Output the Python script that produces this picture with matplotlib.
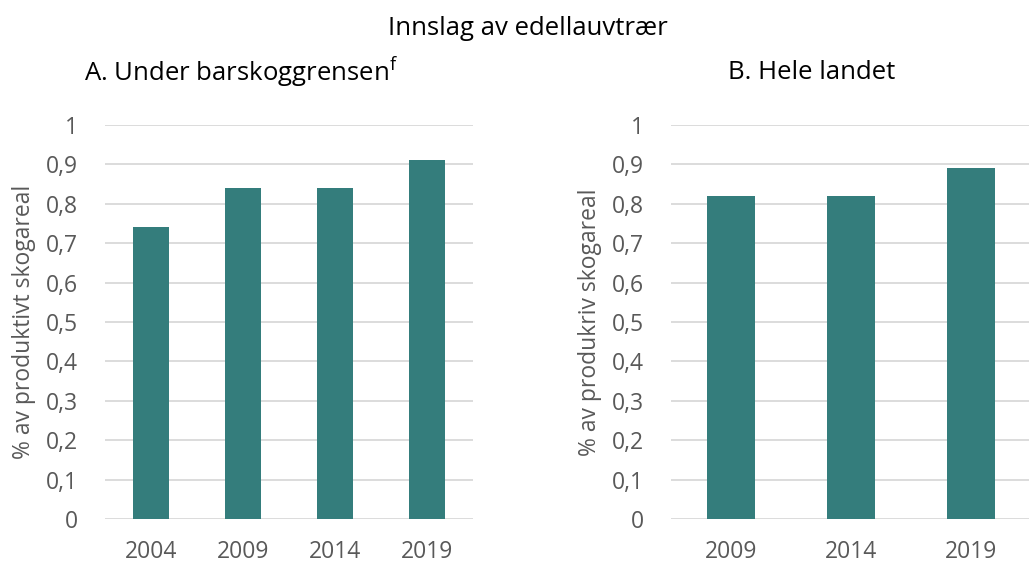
import matplotlib
matplotlib.use('Agg')
import matplotlib.pyplot as plt

plt.rcParams['font.family'] = ['Open Sans', 'DejaVu Sans']
plt.rcParams['mathtext.fontset'] = 'custom'
plt.rcParams['mathtext.rm'] = 'Open Sans'

years_a = ['2004', '2009', '2014', '2019']
values_a = [0.74, 0.84, 0.84, 0.91]
years_b = ['2009', '2014', '2019']
values_b = [0.82, 0.82, 0.89]
yticks = [0, 0.1, 0.2, 0.3, 0.4, 0.5, 0.6, 0.7, 0.8, 0.9, 1]
ylabel_a = '% av produktivt skogareal'
ylabel_b = '% av produkriv skogareal'

bar_color = '#347d7c'
grid_color = '#d9d9d9'
text_color = '#595959'

fig = plt.figure(figsize=(10.29, 5.64), dpi=100)
ax_a = fig.add_axes([0.102, 0.0798, 0.3576, 0.6986])
ax_b = fig.add_axes([0.652, 0.0798, 0.350, 0.6986])


def style(ax, years, values, ylabel):
    ax.bar(range(len(years)), values, width=0.4, color=bar_color, zorder=3)
    ax.set_xlim(-0.5, len(years) - 0.5)
    ax.set_ylim(0, 1)
    ax.set_yticks(yticks)
    ax.set_yticklabels([('%g' % t).replace('.', ',') for t in yticks])
    ax.set_xticks(range(len(years)))
    ax.set_xticklabels(years)
    ax.grid(axis='y', color=grid_color, linewidth=1.3, zorder=0)
    for s in ax.spines.values():
        s.set_visible(False)
    ax.tick_params(axis='both', length=0, labelsize=16.5, colors=text_color)
    ax.tick_params(axis='y', pad=19.5)
    ax.tick_params(axis='x', pad=15)
    ax.set_ylabel(ylabel, fontsize=16.5, color=text_color, labelpad=7)


style(ax_a, years_a, values_a, ylabel_a)
style(ax_b, years_b, values_b, ylabel_b)

fig.text(0.513, 0.95, 'Innslag av edellauvtrær', ha='center', va='center', fontsize=18.5)
fig.text(0.082, 0.872, r'A. Under barskoggrensen$^{\mathrm{f}}$', ha='left', va='center', fontsize=18.5)
fig.text(0.789, 0.872, 'B. Hele landet', ha='center', va='center', fontsize=18.5)

fig.savefig('out.png', dpi=100)
